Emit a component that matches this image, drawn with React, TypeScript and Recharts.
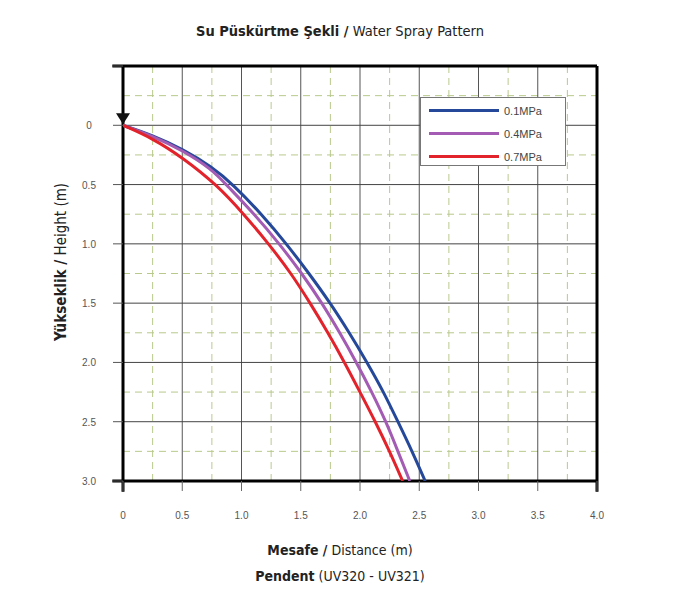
import React from 'react';
import {
  LineChart,
  Line,
  XAxis,
  YAxis,
  ReferenceLine,
  ReferenceDot,
} from 'recharts';

// distance (m) vs height (m)
const blue01 = [
  { x: 0, h: 0 },
  { x: 0.25, h: 0.085 },
  { x: 0.5, h: 0.2 },
  { x: 0.75, h: 0.35 },
  { x: 0.93, h: 0.5 },
  { x: 1.17, h: 0.75 },
  { x: 1.38, h: 1.0 },
  { x: 1.57, h: 1.25 },
  { x: 1.75, h: 1.5 },
  { x: 1.91, h: 1.75 },
  { x: 2.06, h: 2.0 },
  { x: 2.2, h: 2.25 },
  { x: 2.32, h: 2.5 },
  { x: 2.44, h: 2.75 },
  { x: 2.55, h: 3.0 },
];

const purple04 = [
  { x: 0, h: 0 },
  { x: 0.25, h: 0.09 },
  { x: 0.5, h: 0.21 },
  { x: 0.75, h: 0.37 },
  { x: 0.87, h: 0.5 },
  { x: 1.11, h: 0.75 },
  { x: 1.32, h: 1.0 },
  { x: 1.51, h: 1.25 },
  { x: 1.68, h: 1.5 },
  { x: 1.83, h: 1.75 },
  { x: 1.97, h: 2.0 },
  { x: 2.1, h: 2.25 },
  { x: 2.22, h: 2.5 },
  { x: 2.32, h: 2.75 },
  { x: 2.42, h: 3.0 },
];

const red07 = [
  { x: 0, h: 0 },
  { x: 0.25, h: 0.11 },
  { x: 0.5, h: 0.27 },
  { x: 0.79, h: 0.5 },
  { x: 1.02, h: 0.75 },
  { x: 1.23, h: 1.0 },
  { x: 1.42, h: 1.25 },
  { x: 1.58, h: 1.5 },
  { x: 1.73, h: 1.75 },
  { x: 1.87, h: 2.0 },
  { x: 2.0, h: 2.25 },
  { x: 2.13, h: 2.5 },
  { x: 2.25, h: 2.75 },
  { x: 2.36, h: 3.0 },
];

const series = [
  { name: '0.1MPa', data: blue01, color: '#26489a' },
  { name: '0.4MPa', data: purple04, color: '#a35bb3' },
  { name: '0.7MPa', data: red07, color: '#e3232c' },
];

const xTicks = [0, 0.5, 1, 1.5, 2, 2.5, 3, 3.5, 4];
const yTicks = [-0.5, 0, 0.5, 1, 1.5, 2, 2.5, 3];
const minorX = [0.25, 0.75, 1.25, 1.75, 2.25, 2.75, 3.25, 3.75];
const minorY = [-0.25, 0.25, 0.75, 1.25, 1.75, 2.25, 2.75];
const majorX = [0.5, 1, 1.5, 2, 2.5, 3, 3.5];
const majorY = [0, 0.5, 1, 1.5, 2, 2.5];

const tickFont = { fontFamily: 'Liberation Sans, Arial, sans-serif', fontSize: 10, fill: '#555' };
const condensed = "'DejaVu Sans Condensed', 'DejaVu Sans', sans-serif";

const fmt = (v: number) => (v === 0 ? '0' : v.toFixed(1));

const YTick = ({ x, y, payload }: any) => {
  if (payload.value < 0) return null;
  return (
    <text x={x - 22} y={y + 4} textAnchor="middle" {...tickFont}>
      {fmt(payload.value)}
    </text>
  );
};

const XTick = ({ x, y, payload }: any) => (
  <text x={x} y={y + 26} textAnchor="middle" {...tickFont}>
    {fmt(payload.value)}
  </text>
);

const Nozzle = ({ cx, cy }: any) => (
  <path d={`M${cx - 7},${cy - 12} L${cx + 7},${cy - 12} L${cx},${cy - 1} Z`} fill="#111" />
);

const LegendBox = () => (
  <div
    style={{
      position: 'absolute',
      left: 420,
      top: 97,
      width: 146,
      height: 69,
      border: '1px solid #777',
      background: '#fff',
      boxSizing: 'border-box',
      paddingTop: 1,
    }}
  >
    {series.map((s) => (
      <div key={s.name} style={{ display: 'flex', alignItems: 'center', height: 23 }}>
        <div style={{ width: 70, height: 3, background: s.color, marginLeft: 8, marginRight: 5 }} />
        <span style={{ fontFamily: 'Liberation Sans, Arial, sans-serif', fontSize: 11, color: '#444' }}>
          {s.name}
        </span>
      </div>
    ))}
  </div>
);

export default function App() {
  return (
    <div style={{ position: 'relative', width: 680, height: 597, background: '#fff', fontFamily: condensed, color: '#222' }}>
      <style>{'body{margin:0}'}</style>
      <div style={{ position: 'absolute', left: 0, width: 680, top: 23, textAlign: 'center', fontSize: 14.5, fontStretch: 'condensed' }}>
        <b>Su Püskürtme Şekli /</b> Water Spray Pattern
      </div>
      <LineChart width={680} height={597} margin={{ top: 66, right: 83, bottom: 0, left: 0 }}>
        <XAxis
          type="number"
          dataKey="x"
          domain={[0, 4]}
          ticks={xTicks}
          allowDataOverflow
          axisLine={false}
          tickLine={{ stroke: '#666' }}
          tickSize={10}
          tick={<XTick />}
          height={116}
        />
        <YAxis
          type="number"
          dataKey="h"
          domain={[-0.5, 3]}
          ticks={yTicks}
          reversed
          allowDataOverflow
          axisLine={false}
          tickLine={{ stroke: '#555' }}
          tickSize={10}
          tick={<YTick />}
          width={123}
        />
        {minorX.map((v) => (
          <ReferenceLine key={`mx${v}`} x={v} stroke="#b9c98c" strokeDasharray="7 5" />
        ))}
        {minorY.map((v) => (
          <ReferenceLine key={`my${v}`} y={v} stroke="#b9c98c" strokeDasharray="7 5" />
        ))}
        {majorX.map((v) => (
          <ReferenceLine key={`Mx${v}`} x={v} stroke="#555" />
        ))}
        {majorY.map((v) => (
          <ReferenceLine key={`My${v}`} y={v} stroke="#444" />
        ))}
        <ReferenceLine segment={[{ x: 0, y: -0.5 }, { x: 0, y: 3.09 }]} stroke="#000" strokeWidth={3} ifOverflow="visible" />
        <ReferenceLine segment={[{ x: 4, y: -0.5 }, { x: 4, y: 3.09 }]} stroke="#000" strokeWidth={3} ifOverflow="visible" />
        <ReferenceLine segment={[{ x: -0.09, y: -0.5 }, { x: 4, y: -0.5 }]} stroke="#000" strokeWidth={3} ifOverflow="visible" />
        <ReferenceLine segment={[{ x: -0.09, y: 3 }, { x: 4, y: 3 }]} stroke="#000" strokeWidth={3} ifOverflow="visible" />
        {series.map((s) => (
          <Line
            key={s.name}
            data={s.data}
            dataKey="h"
            name={s.name}
            type="basis"
            stroke={s.color}
            strokeWidth={3}
            dot={false}
            isAnimationActive={false}
          />
        ))}
        <ReferenceDot x={0} y={0} r={0} shape={<Nozzle />} ifOverflow="visible" />
      </LineChart>
      <LegendBox />
      <div
        style={{
          position: 'absolute',
          left: 61,
          top: 262,
          transform: 'translate(-50%, -50%) rotate(-90deg)',
          whiteSpace: 'nowrap',
          fontSize: 15,
          fontStretch: 'condensed',
        }}
      >
        <b>Yükseklik /</b> Height (m)
      </div>
      <div style={{ position: 'absolute', left: 0, width: 680, top: 542, textAlign: 'center', fontSize: 14, fontStretch: 'condensed' }}>
        <b>Mesafe /</b> Distance (m)
      </div>
      <div style={{ position: 'absolute', left: 0, width: 680, top: 568, textAlign: 'center', fontSize: 14, fontStretch: 'condensed' }}>
        <b>Pendent</b> (UV320 - UV321)
      </div>
    </div>
  );
}
